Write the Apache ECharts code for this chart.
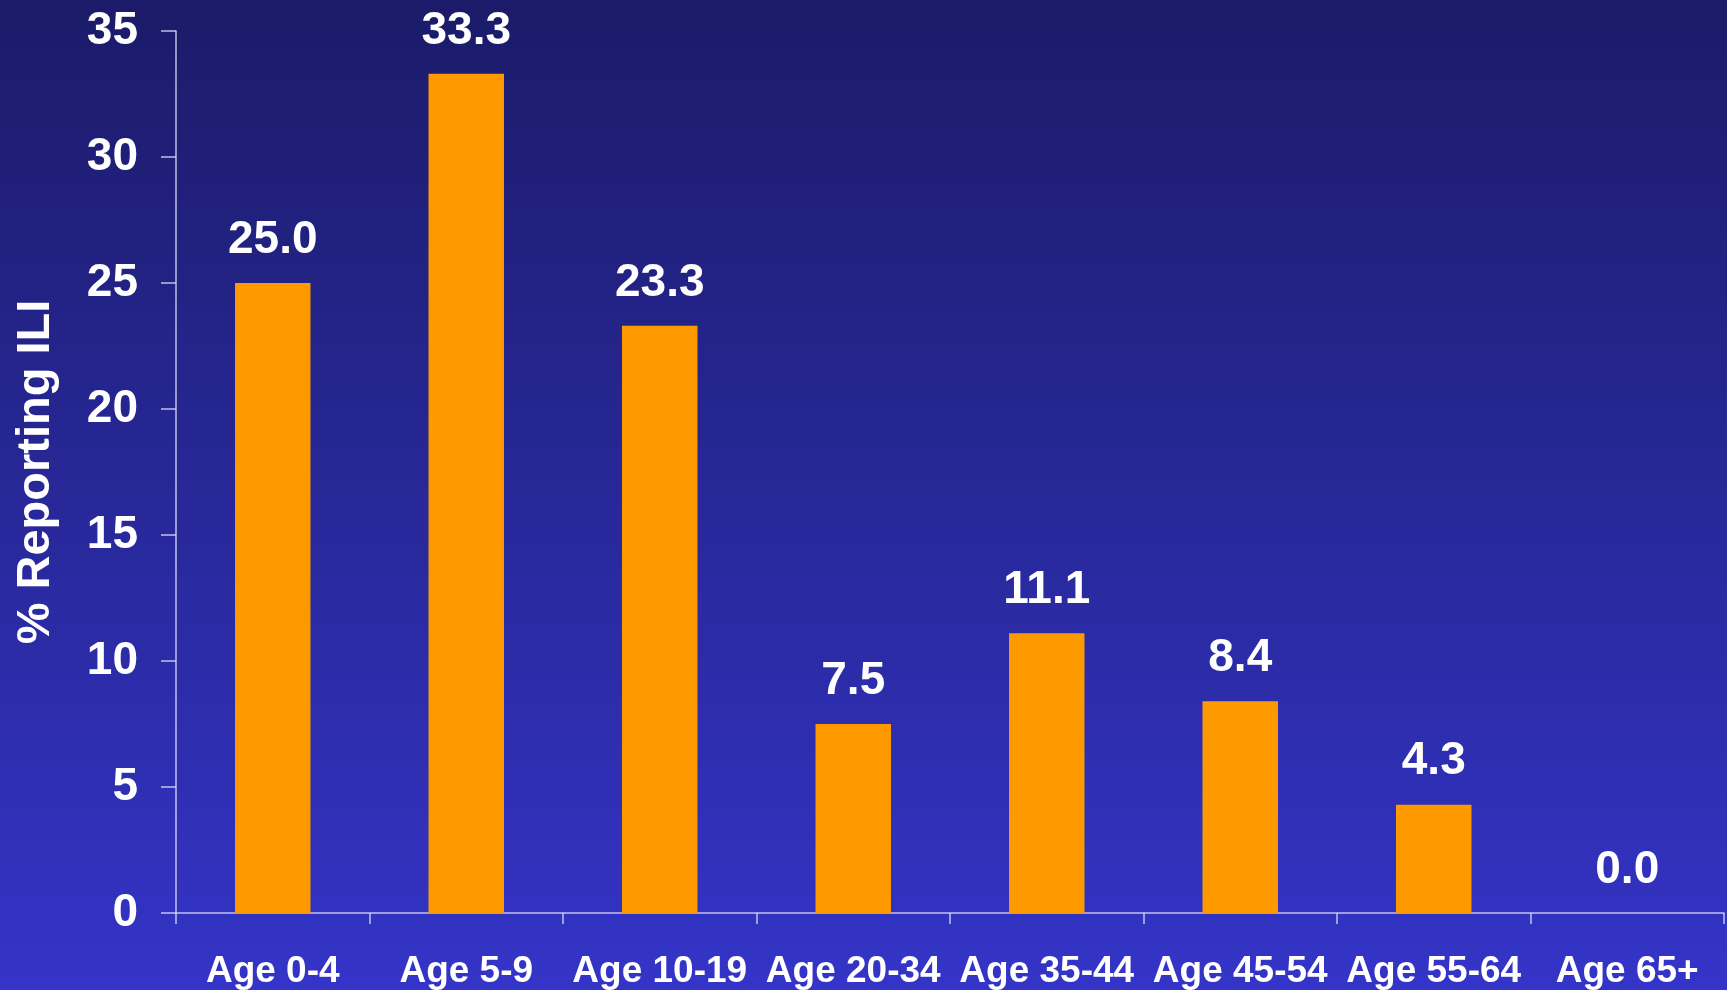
<!DOCTYPE html>
<html>
<head>
<meta charset="utf-8">
<title>% Reporting ILI by Age Group</title>
<script src="https://cdn.jsdelivr.net/npm/echarts@6/dist/echarts.min.js"></script>
<style>
  html, body { margin: 0; padding: 0; width: 100%; height: 100%; overflow: hidden; }
  #chart { width: 1727px; height: 990px; }
</style>
</head>
<body>
<div id="chart"></div>
<script>
// Age groups and share of respondents reporting influenza-like illness
const categories = ['Age 0-4', 'Age 5-9', 'Age 10-19', 'Age 20-34', 'Age 35-44', 'Age 45-54', 'Age 55-64', 'Age 65+'];
const percentILI = [25.0, 33.3, 23.3, 7.5, 11.1, 8.4, 4.3, 0.0];
const yTicks = [0, 5, 10, 15, 20, 25, 30, 35];

const FONT = '"Liberation Sans", Arial, Helvetica, sans-serif';
const axisColor = 'rgba(220,220,245,0.85)';

const chart = echarts.init(document.getElementById('chart'));
chart.setOption({
  backgroundColor: new echarts.graphic.LinearGradient(0, 0, 0, 1, [
    { offset: 0, color: '#1b1b69' },
    { offset: 1, color: '#3434c8' }
  ]),
  animation: false,
  grid: { left: 176, right: 3, top: 31, bottom: 77 },
  xAxis: {
    type: 'category',
    data: categories,
    axisLine: { lineStyle: { color: axisColor, width: 1.5 } },
    axisTick: { show: true, length: 11, alignWithLabel: false, lineStyle: { color: axisColor, width: 1.5 } },
    axisLabel: {
      color: '#ffffff', fontFamily: FONT, fontWeight: 'bold', fontSize: 37,
      margin: 40, interval: 0
    }
  },
  yAxis: {
    type: 'value',
    min: yTicks[0],
    max: yTicks[yTicks.length - 1],
    interval: yTicks[1] - yTicks[0],
    name: '% Reporting ILI',
    nameLocation: 'middle',
    nameGap: 116,
    nameTextStyle: { color: '#ffffff', fontFamily: FONT, fontWeight: 'bold', fontSize: 47 },
    splitLine: { show: false },
    axisLine: { show: true, lineStyle: { color: axisColor, width: 1.5 } },
    axisTick: { show: true, length: 15, lineStyle: { color: axisColor, width: 1.5 } },
    axisLabel: {
      color: '#ffffff', fontFamily: FONT, fontWeight: 'bold', fontSize: 46,
      margin: 38, padding: [6, 0, 0, 0]
    }
  },
  series: [{
    type: 'bar',
    data: percentILI,
    barWidth: '39%',
    itemStyle: { color: '#ff9900' },
    label: {
      show: true,
      position: 'top',
      distance: 20,
      color: '#ffffff',
      fontFamily: FONT,
      fontWeight: 'bold',
      fontSize: 46,
      formatter: p => p.value.toFixed(1)
    }
  }]
});
</script>
</body>
</html>
